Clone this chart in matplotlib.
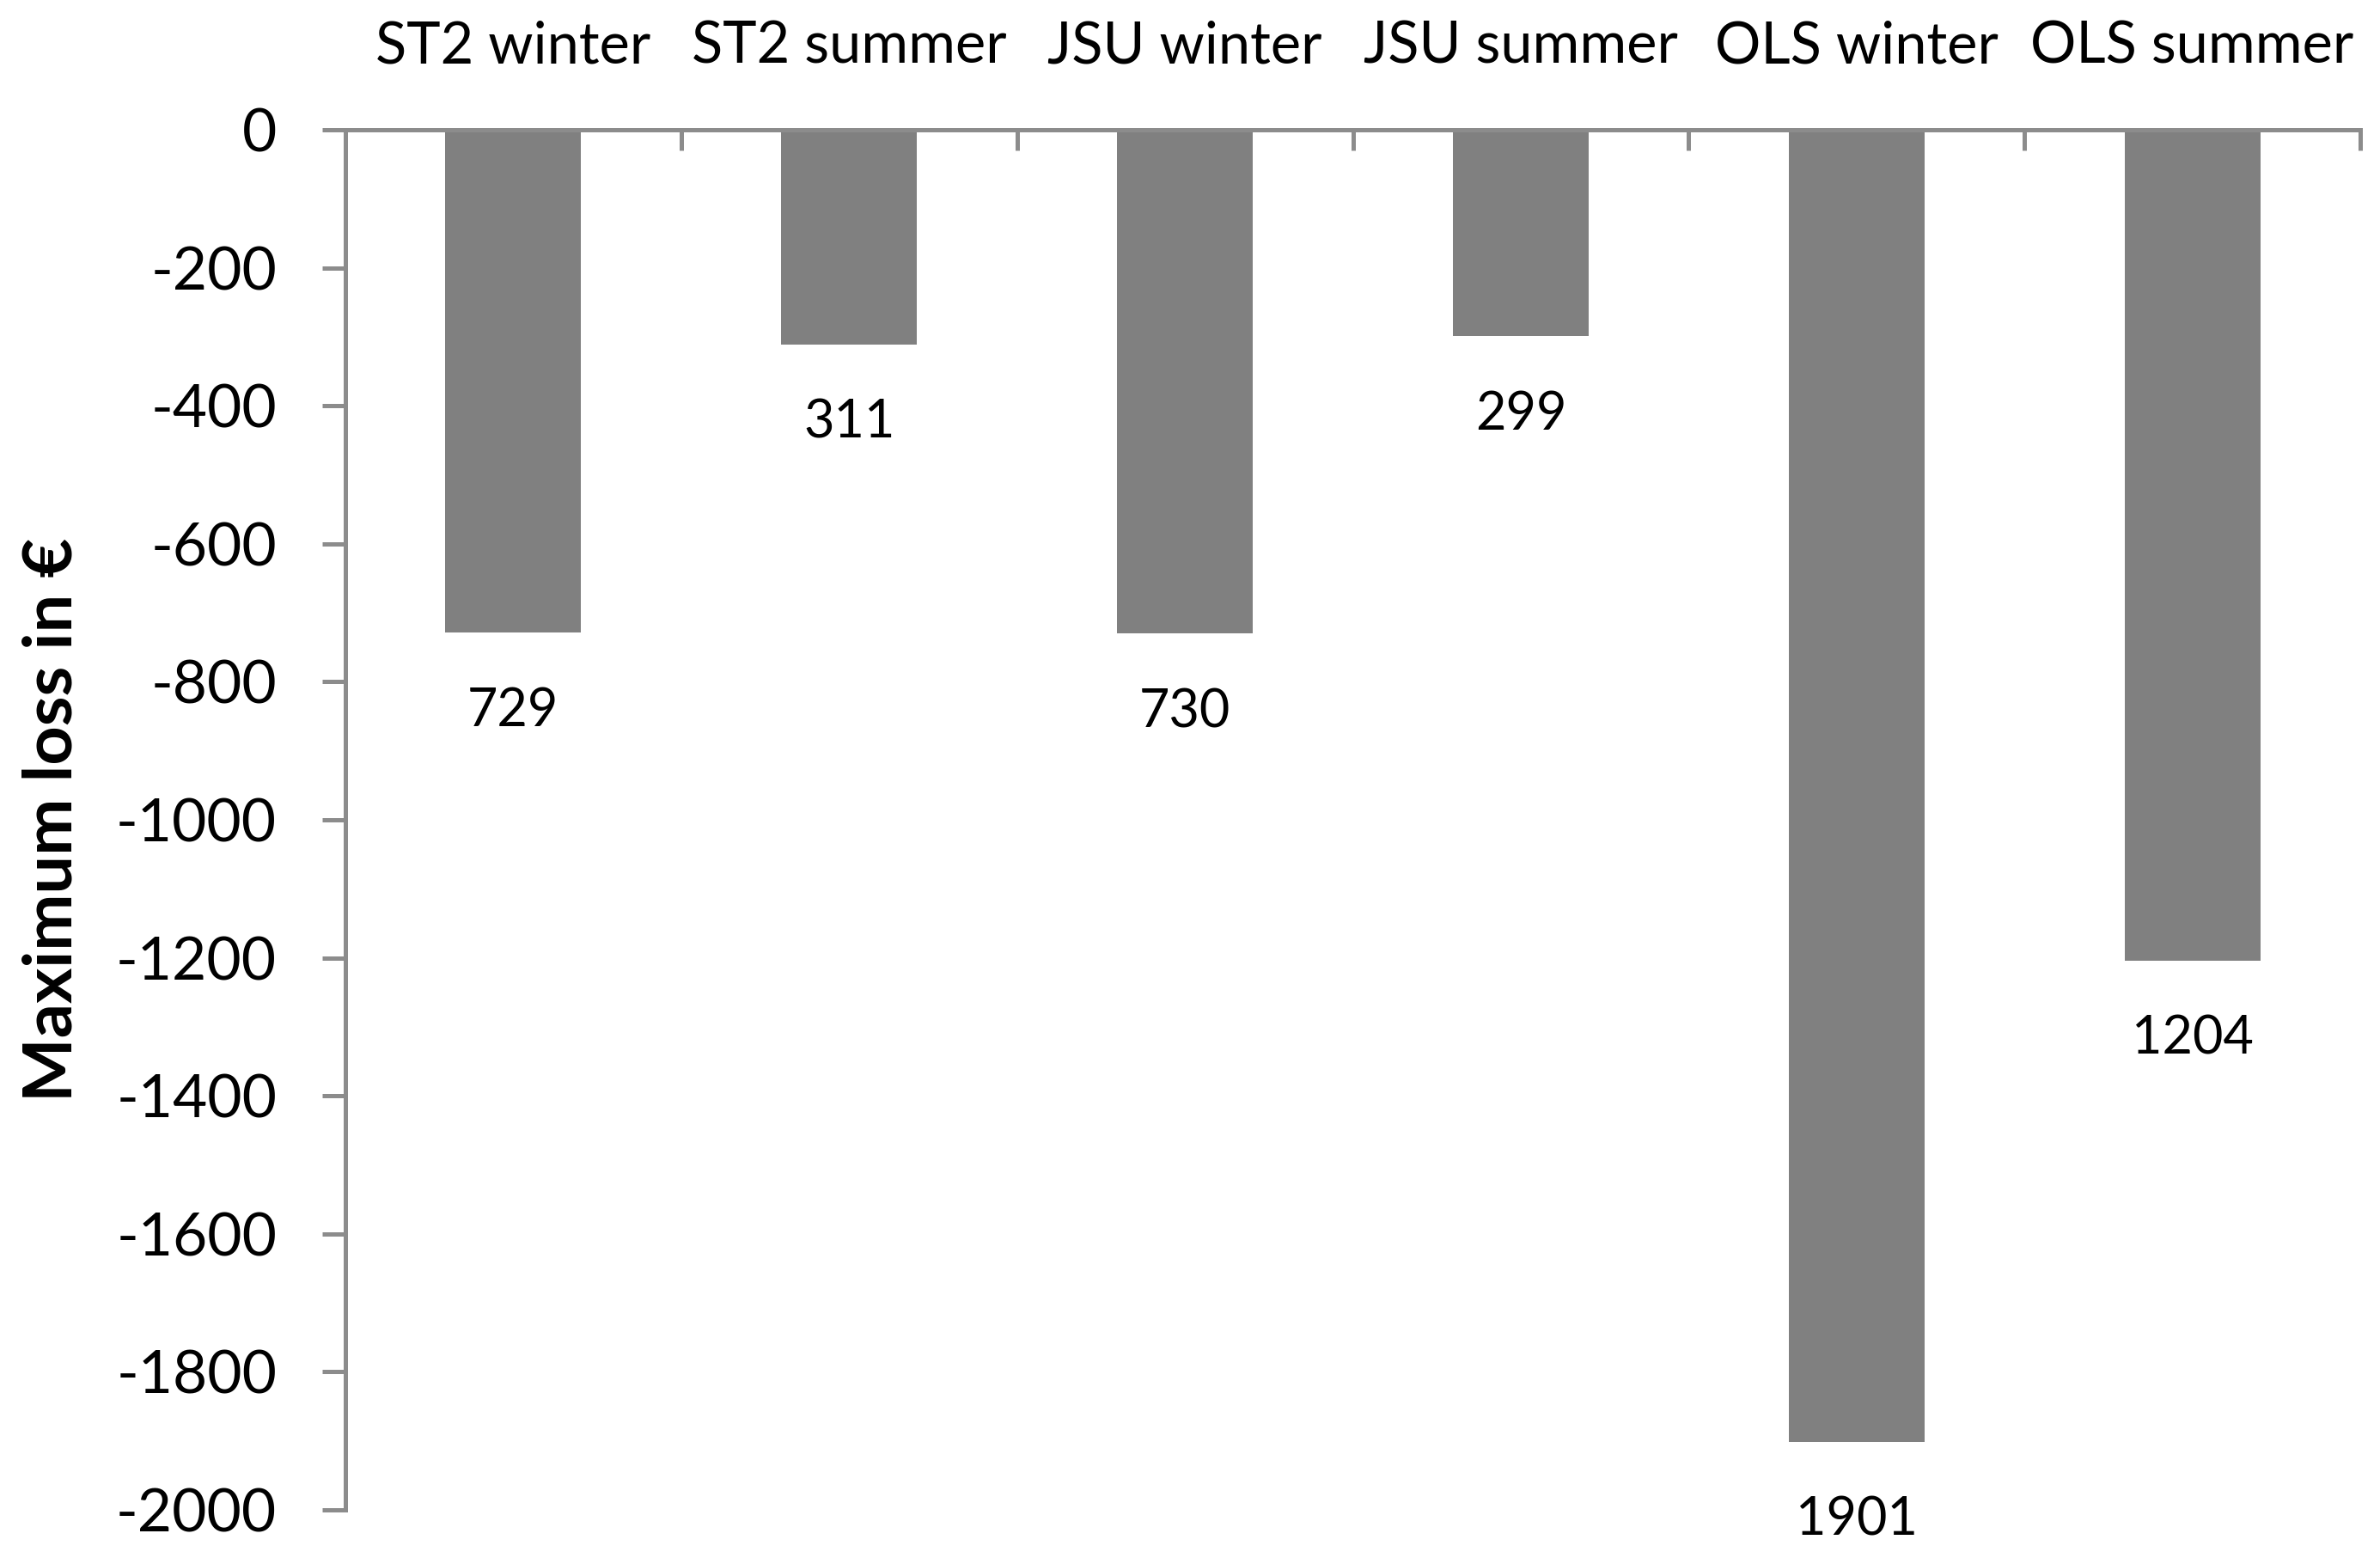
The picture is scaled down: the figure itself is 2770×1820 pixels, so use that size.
import matplotlib
matplotlib.use('Agg')
import matplotlib.pyplot as plt
import numpy as np

# 数据
categories = ['ST2 winter', 'ST2 summer', 'JSU winter', 'JSU summer', 'OLS winter', 'OLS summer']
max_loss = [729, 311, 730, 299, 1901, 1204]
y_ticks = list(range(-2000, 1, 200))

plt.rcParams['font.family'] = ['Lato', 'DejaVu Sans']

bar_color = '#808080'
axis_color = '#8c8c8c'

fig = plt.figure(figsize=(27.7, 18.2), dpi=100)
ax = fig.add_axes([402 / 2770, 1 - 1757 / 1820, (2747 - 402) / 2770, (1757 - 151) / 1820])

x = np.arange(len(categories))
values = -np.array(max_loss)
ax.bar(x, values, width=0.404, color=bar_color, zorder=1)

ax.set_xlim(-0.5, len(categories) - 0.5)
ax.set_ylim(-2000, 0)

# 坐标轴样式
for side in ['bottom', 'right']:
    ax.spines[side].set_visible(False)
for side in ['top', 'left']:
    ax.spines[side].set_color(axis_color)
    ax.spines[side].set_linewidth(3.6)
    ax.spines[side].set_zorder(3)

ax.xaxis.tick_top()
ax.set_xticks([])
ax.set_xticks(np.arange(-0.5, len(categories), 1.0), minor=True)
ax.tick_params(axis='x', which='minor', direction='in', length=17, width=3.6,
               color=axis_color, top=True, bottom=False)

ax.set_yticks(y_ticks)
ax.set_yticklabels([str(v) for v in y_ticks])
ax.tick_params(axis='y', direction='out', length=19.5, width=3.6, color=axis_color,
               pad=38, labelsize=50)

# 类别标签（顶部）
for i, name in enumerate(categories):
    ax.annotate(name, xy=(i, 1), xycoords=('data', 'axes fraction'),
                xytext=(0, 77), textcoords='offset pixels',
                ha='center', va='baseline', fontsize=48)

# 数值标签
for i, v in enumerate(max_loss):
    ax.annotate(str(v), xy=(i, -v), xycoords='data',
                xytext=(0, -109), textcoords='offset pixels',
                ha='center', va='baseline', fontsize=44)

fig.text(62 / 2770, 1 - 954 / 1820, 'Maximum loss in €', rotation=90,
         ha='center', va='center', fontsize=57, fontweight='bold')

fig.savefig('out.png', dpi=100, facecolor='white')
